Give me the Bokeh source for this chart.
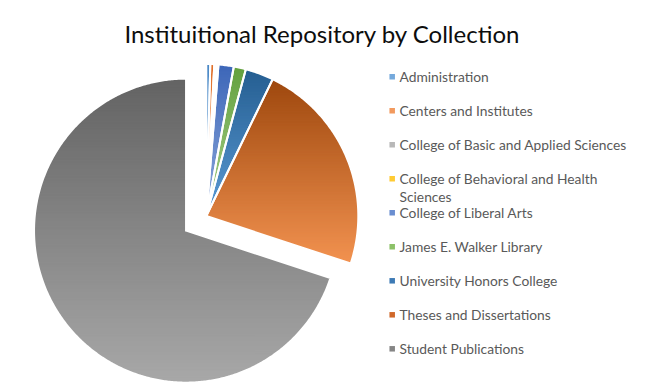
import math
from bokeh.plotting import figure
from bokeh.models import Range1d
from bokeh.core.properties import value
from bokeh.embed import file_html
from bokeh.resources import INLINE

# ---------------- data ----------------
title = "Instituitional Repository by Collection"
categories = [
    "Administration",
    "Centers and Institutes",
    "College of Basic and Applied Sciences",
    "College of Behavioral and Health Sciences",
    "College of Liberal Arts",
    "James E. Walker Library",
    "University Honors College",
    "Theses and Dissertations",
    "Student Publications",
]
shares = [0.42, 0.42, 0.22, 0.22, 1.62, 1.29, 3.00, 22.87, 69.94]

# ---------------- style ----------------
top_colors = ["#4a88c6", "#e06e28", "#9a9a9a", "#f2b400", "#3c66b8", "#63a03e",
              "#255e91", "#9e480e", "#636363"]
bottom_colors = ["#9cc3e6", "#f5ab78", "#c8c8c8", "#ffd966", "#8faadc", "#a9d18e",
                 "#5b9bd5", "#f29250", "#a8a8a8"]
legend_colors = ["#75a9dc", "#f29a5e", "#b8b8b8", "#ffcb33", "#6a8ed0", "#8cc168",
                 "#3d7ab5", "#d0682a", "#858585"]
explode = [0, 0, 0, 0, 0, 0, 0, 0, 25]   # pixel offsets along slice bisector

W, H = 650, 391
CX, CY, R = 205.8, 215.5, 152.0

p = figure(width=W, height=H, output_backend="svg", toolbar_location=None,
           x_range=Range1d(0, W), y_range=Range1d(H, 0), min_border=0)
p.axis.visible = False
p.grid.visible = False
p.outline_line_color = None
p.background_fill_color = "white"
p.border_fill_color = "white"


def hex_to_rgb(h):
    h = h.lstrip("#")
    return tuple(int(h[i:i + 2], 16) for i in (0, 2, 4))


def mix(c1, c2, t):
    a, b = hex_to_rgb(c1), hex_to_rgb(c2)
    return "#%02x%02x%02x" % tuple(int(round(a[i] + (b[i] - a[i]) * t)) for i in range(3))


def clip_half(poly, y0, keep_above):
    out = []
    n = len(poly)
    for i in range(n):
        P = poly[i]
        Q = poly[(i + 1) % n]
        inP = P[1] >= y0 if keep_above else P[1] <= y0
        inQ = Q[1] >= y0 if keep_above else Q[1] <= y0
        if inP:
            out.append(P)
        if inP != inQ:
            t = (y0 - P[1]) / (Q[1] - P[1])
            out.append((P[0] + t * (Q[0] - P[0]), y0))
    return out


total = sum(shares)
strip_xs, strip_ys, strip_cols = [], [], []
outline_xs, outline_ys = [], []
start = 0.0
for i, s in enumerate(shares):
    a0 = start
    a1 = start + s / total * 360.0
    start = a1
    mid = math.radians((a0 + a1) / 2)
    ax = CX + explode[i] * math.sin(mid)
    ay = CY - explode[i] * math.cos(mid)
    n = max(2, int((a1 - a0) / 0.5) + 1)
    poly = [(ax, ay)]
    for k in range(n + 1):
        a = math.radians(a0 + (a1 - a0) * k / n)
        poly.append((ax + R * math.sin(a), ay - R * math.cos(a)))
    ymin = min(q[1] for q in poly)
    ymax = max(q[1] for q in poly)
    step = 1.5
    y = ymin
    while y < ymax:
        piece = clip_half(poly, y, True)
        piece = clip_half(piece, min(y + step + 0.8, ymax), False) if piece else []
        if len(piece) >= 3:
            t = ((y + step / 2) - ymin) / max(ymax - ymin, 1e-6)
            strip_xs.append([q[0] for q in piece])
            strip_ys.append([q[1] for q in piece])
            strip_cols.append(mix(top_colors[i], bottom_colors[i], min(max(t, 0), 1)))
        y += step
    outline_xs.append([q[0] for q in poly])
    outline_ys.append([q[1] for q in poly])

p.patches(strip_xs, strip_ys, fill_color=strip_cols, line_color=None)
p.patches(outline_xs, outline_ys, fill_color=None, line_color="white", line_width=2.0,
          line_join="miter")

# title
p.text(x=[322], y=[33.3], text=[title], text_font=value("Lato"), text_font_size="24px",
       text_color="#0d0d0d", text_align="center", text_baseline="alphabetic")

# legend
leg_x = 391.7
row0, row_gap = 76.3, 34.0
lx, ly, lc = [], [], []
tx, ty, tt = [], [], []
for i, name in enumerate(categories):
    yy = row0 + row_gap * i
    lx.append(leg_x)
    ly.append(yy)
    lc.append(legend_colors[i])
    if name == "College of Behavioral and Health Sciences":
        tx += [leg_x + 7.3, leg_x + 7.3]
        ty += [yy, yy + 17.7]
        tt += ["College of Behavioral and Health", "Sciences"]
    else:
        tx.append(leg_x + 7.3)
        ty.append(yy)
        tt.append(name)

p.rect(x=lx, y=ly, width=5.5, height=5.5, fill_color=lc, line_color=None)
p.text(x=tx, y=ty, text=tt, text_font=value("Lato"), text_font_size="13.8px",
       text_color="#595959", text_align="left", text_baseline="middle")

open("out.html", "w").write(file_html(p, INLINE))
